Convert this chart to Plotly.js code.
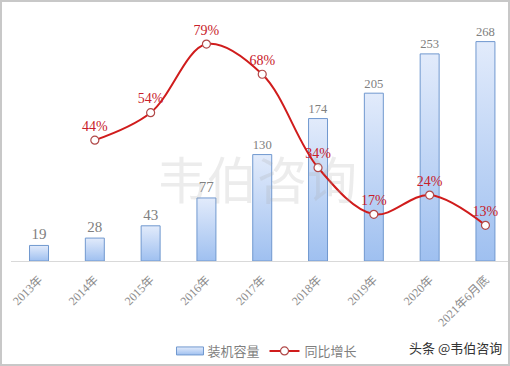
<!DOCTYPE html>
<html>
<head>
<meta charset="utf-8">
<script src="https://cdn.plot.ly/plotly-3.0.1.min.js"></script>
<style>
  html, body { margin: 0; padding: 0; background: #fff; }
  #wrap { position: relative; width: 510px; height: 366px; }
  #chart { position: absolute; left: 0; top: 0; width: 510px; height: 366px; }
  #frame { position: absolute; left: 0; top: 0; width: 510px; height: 366px; box-sizing: border-box; border: 2px solid #c8c8c8; pointer-events: none; }
</style>
</head>
<body>
<div id="wrap"><div id="chart"></div><div id="frame"></div></div>
<script>
// ---- data ----
const categories = ["2013年", "2014年", "2015年", "2016年", "2017年", "2018年", "2019年", "2020年", "2021年6月底"];
const capacity = [19, 28, 43, 77, 130, 174, 205, 253, 268];
const growth = [null, 44, 54, 79, 68, 34, 17, 24, 13];
const growthLabels = growth.map(v => v === null ? "" : v + "%");
const seriesNames = ["装机容量", "同比增长"];
const watermark = "韦伯咨询";
const sourceText = "头条 @韦伯咨询";

const numFont = "'Liberation Serif', 'Times New Roman', 'Noto Sans CJK SC', serif";
const cjkFont = "'Noto Sans CJK SC', 'Liberation Sans', sans-serif";

const barTrace = {
  type: "bar",
  name: seriesNames[0],
  x: categories,
  y: capacity,
  width: 0.34,
  marker: { color: "#c3d7f5", line: { color: "#7098cf", width: 1 } },
  text: capacity.map(String),
  textposition: "outside",
  textfont: { family: numFont, size: 15, color: "#808080" },
  cliponaxis: false,
  hoverinfo: "none"
};

const lineTrace = {
  type: "scatter",
  mode: "lines+markers+text",
  name: seriesNames[1],
  x: categories,
  y: growth,
  yaxis: "y2",
  line: { color: "#d01c1c", width: 2, shape: "spline", smoothing: 1 },
  marker: { size: 8, color: "#ffffff", line: { color: "#b04848", width: 1.2 } },
  text: growthLabels,
  textposition: "top center",
  textfont: { family: numFont, size: 14, color: "#c8202a" },
  cliponaxis: false,
  connectgaps: false,
  hoverinfo: "none"
};

const layout = {
  width: 510,
  height: 366,
  margin: { l: 11, r: 0, t: 10, b: 104, pad: 0 },
  paper_bgcolor: "rgba(0,0,0,0)",
  plot_bgcolor: "rgba(0,0,0,0)",
  showlegend: true,
  bargap: 0,
  xaxis: {
    type: "category",
    range: [-0.502, 8.44],
    showline: true,
    linecolor: "#d9d9d9",
    linewidth: 1,
    ticks: "",
    showgrid: false,
    zeroline: false,
    tickangle: -45,
    ticklabelstandoff: 6,
    tickfont: { family: numFont, size: 12, color: "#8c8c8c" },
    automargin: false,
    fixedrange: true
  },
  yaxis: {
    range: [0, 306.6],
    visible: false,
    showgrid: false,
    zeroline: false,
    fixedrange: true
  },
  yaxis2: {
    range: [0, 91.4],
    overlaying: "y",
    side: "right",
    visible: false,
    showgrid: false,
    zeroline: false,
    fixedrange: true
  },
  legend: {
    orientation: "h",
    x: 0.509,
    xanchor: "center",
    y: -0.36,
    yanchor: "middle",
    font: { family: cjkFont, size: 13, color: "#7f7f7f" },
    itemwidth: 30,
    traceorder: "normal",
    bgcolor: "rgba(0,0,0,0)"
  },
  annotations: [
    {
      text: watermark,
      xref: "paper", yref: "paper",
      x: 0.493, y: 0.333,
      xanchor: "center", yanchor: "middle",
      showarrow: false,
      font: { family: cjkFont, size: 50, color: "rgba(170,170,170,0.22)" }
    },
    {
      text: sourceText,
      xref: "paper", yref: "paper",
      x: 0.89, y: -0.345,
      xanchor: "center", yanchor: "middle",
      showarrow: false,
      font: { family: cjkFont, size: 13, color: "#333333" }
    }
  ]
};

Plotly.newPlot("chart", [barTrace, lineTrace], layout, { staticPlot: true, displayModeBar: false }).then(gd => {
  const svg = gd.querySelector("svg.main-svg");
  const ns = "http://www.w3.org/2000/svg";
  let defs = svg.querySelector("defs");
  if (!defs) { defs = document.createElementNS(ns, "defs"); svg.insertBefore(defs, svg.firstChild); }
  const grad = document.createElementNS(ns, "linearGradient");
  grad.setAttribute("id", "barGrad");
  grad.setAttribute("x1", "0"); grad.setAttribute("y1", "0");
  grad.setAttribute("x2", "0"); grad.setAttribute("y2", "1");
  [["0", "#e2ebfb"], ["1", "#9fc0f0"]].forEach(([o, c]) => {
    const s = document.createElementNS(ns, "stop");
    s.setAttribute("offset", o); s.setAttribute("stop-color", c);
    grad.appendChild(s);
  });
  defs.appendChild(grad);
  gd.querySelectorAll(".barlayer .point path").forEach(p => {
    p.style.fill = "url(#barGrad)";
  });
  // legend bar swatch: wide flat rectangle like the reference
  gd.querySelectorAll(".legend .legendpoints path").forEach(p => {
    const d = p.getAttribute("d") || "";
    if (d.indexOf("M6,6H-6V-6H6Z") === 0 || p.closest(".legendbar") || p.classList.contains("legendundefined")) {
      p.setAttribute("d", "M-11,4H16V-4H-11Z");
      p.style.fill = "url(#barGrad)";
    }
  });
});
</script>
</body>
</html>
